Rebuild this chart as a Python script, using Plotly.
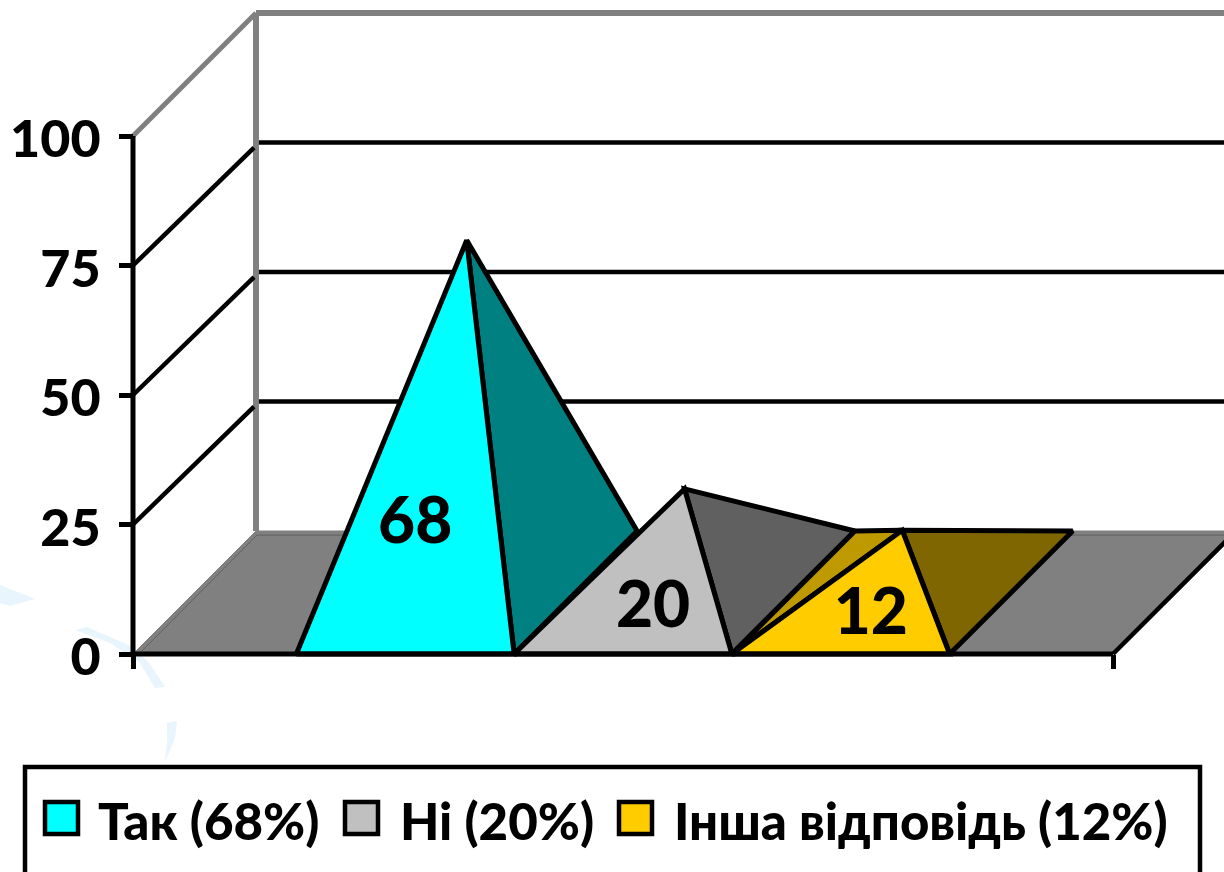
import plotly.graph_objects as go

# ---- data ----
SERIES = ["Так (68%)", "Ні (20%)", "Інша відповідь (12%)"]
VALUES = [68, 20, 12]
LABELS = ["68", "20", "12"]
TICKS = [0, 25, 50, 75, 100]
FRONT = ["#00FFFF", "#C0C0C0", "#FFCC00"]
RIGHT = ["#008080", "#606060", "#806600"]
LEFT = ["#00BFBF", "#909090", "#BF9900"]

# ---- page geometry ----
W, H = 1224, 872
X0_PX, Y0_PX = 133, 654
X_SCALE = 980.0        # px per category width
Y_SCALE = 5.18         # px per value unit
DEPTH_X = 123 / X_SCALE
DEPTH_Y = 123 / Y_SCALE
BAR_W = 1 / 4.5
GAP = 0.75 * BAR_W
FONT = "Lato, 'Noto Sans', sans-serif"
LABEL_DX = [10 / X_SCALE, 30 / X_SCALE, 30 / X_SCALE]
LABEL_Y = [24.5, 8.3, 7.0]
LEGEND_BOX = (25, 767, 1200, 900)
LEGEND_SWATCH_X = [45, 345, 619]
LEGEND_TEXT_X = [96, 398, 672]
LEGEND_Y = (802, 834)

xr = [-X0_PX / X_SCALE, (W - X0_PX) / X_SCALE]
yr = [-(H - Y0_PX) / Y_SCALE, Y0_PX / Y_SCALE]
fig = go.Figure()


def poly(xs, ys, fill=None, line="black", lw=5):
    fig.add_trace(go.Scatter(
        x=xs, y=ys, mode="lines", showlegend=False, hoverinfo="skip",
        fill="toself" if fill else None, fillcolor=fill,
        line=dict(color=line, width=lw, simplify=False)))


# walls
top = TICKS[-1]
poly([0, DEPTH_X], [top, top + DEPTH_Y], line="#808080", lw=5)
poly([DEPTH_X, DEPTH_X], [DEPTH_Y, top + DEPTH_Y], line="#808080", lw=6)
poly([DEPTH_X, xr[1]], [top + DEPTH_Y, top + DEPTH_Y], line="#808080", lw=6)
for t in TICKS[1:-1]:
    poly([0, DEPTH_X - 0.002], [t, t + DEPTH_Y - 1], lw=4.5)
    poly([DEPTH_X + 0.003, xr[1]], [t + DEPTH_Y, t + DEPTH_Y], lw=4.5)

# floor
poly([0, DEPTH_X, 1 + DEPTH_X, 1, 0], [0, DEPTH_Y, DEPTH_Y, 0, 0], fill="#808080", line="#808080", lw=1)
poly([0.006, DEPTH_X + 0.001, xr[1]], [0, DEPTH_Y - 0.8, DEPTH_Y - 0.8], line="#606060", lw=1)
poly([1, 1 + DEPTH_X], [0, DEPTH_Y], lw=4.5)

# pyramids
for i, v in enumerate(VALUES):
    x1 = GAP + i * BAR_W
    x2 = x1 + BAR_W
    ax = (x1 + x2) / 2 + DEPTH_X / 2
    ay = DEPTH_Y / 2 + v
    if ay < DEPTH_Y + 0.5:  # low apex: the back-left face shows
        poly([x1, x1 + DEPTH_X, ax, x1], [0, DEPTH_Y, ay, 0], fill=LEFT[i])
    poly([x2, x2 + DEPTH_X, ax, x2], [0, DEPTH_Y, ay, 0], fill=RIGHT[i])
    poly([x1, x2, ax, x1], [0, 0, ay, 0], fill=FRONT[i])

# data labels
fig.add_trace(go.Scatter(
    x=[GAP + (i + 0.5) * BAR_W + LABEL_DX[i] for i in range(3)],
    y=LABEL_Y, mode="text", text=LABELS, showlegend=False, hoverinfo="skip",
    textfont=dict(family=FONT, size=64, color="black", weight=900)))


# faint watermark fragments behind the chart
def path(pts):
    return "M" + " L".join(f"{x/W:.4f},{1 - y/H:.4f}" for x, y in pts) + " Z"


WM = [
    [(0, 585), (35, 599), (10, 606), (0, 603)],
    [(75, 630), (87, 627), (133, 647), (150, 664), (165, 687), (155, 688), (140, 663), (110, 643)],
    [(167, 723), (177, 721), (175, 738), (165, 762), (167, 740)],
]
shapes = [dict(type="path", xref="paper", yref="paper", path=path(p), fillcolor="#E8F5FD",
               line=dict(width=0), layer="below") for p in WM]

# legend, built by hand because its swatches are larger than a native legend allows
bx0, by0, bx1, by1 = LEGEND_BOX
shapes.append(dict(type="rect", xref="paper", yref="paper", x0=bx0 / W, x1=bx1 / W,
                   y0=1 - by1 / H, y1=1 - by0 / H, fillcolor="white",
                   line=dict(color="black", width=4.5)))
annotations = []
for name, color, sx, tx in zip(SERIES, FRONT, LEGEND_SWATCH_X, LEGEND_TEXT_X):
    shapes.append(dict(type="rect", xref="paper", yref="paper", x0=sx / W, x1=(sx + 33) / W,
                       y0=1 - LEGEND_Y[1] / H, y1=1 - LEGEND_Y[0] / H, fillcolor=color,
                       line=dict(color="black", width=4.5)))
    annotations.append(dict(xref="paper", yref="paper", x=tx / W, y=1 - 820 / H, text=name,
                            xanchor="left", yanchor="middle", showarrow=False,
                            font=dict(family=FONT, size=51, color="black", weight=900)))

fig.update_layout(
    width=W, height=H, margin=dict(l=0, r=0, t=0, b=0),
    paper_bgcolor="white", plot_bgcolor="rgba(0,0,0,0)", shapes=shapes, annotations=annotations,
    font=dict(family=FONT, color="black"),
    showlegend=False,
    xaxis=dict(range=xr, anchor="free", position=(H - Y0_PX) / H, showgrid=False, zeroline=False,
               tickvals=[0, 1], ticktext=["", ""], ticks="outside", ticklen=14, tickwidth=5,
               tickcolor="black", showline=False, fixedrange=True),
    yaxis=dict(range=yr, anchor="free", position=X0_PX / W, showgrid=False, zeroline=False,
               tickvals=TICKS, ticks="outside", ticklen=14, tickwidth=4.5, tickcolor="black",
               ticklabelstandoff=8, ticklabelshift=3,
               tickfont=dict(family=FONT, size=52, weight=900, color="black"),
               showline=False, fixedrange=True),
)
# axis lines
poly([0, 0], [0, top], lw=5)
poly([0, 1], [0, 0], lw=5)
fig.write_html("out.html", config=dict(displayModeBar=False),
               post_script="document.body.style.margin='0';window.dispatchEvent(new Event('resize'));")
